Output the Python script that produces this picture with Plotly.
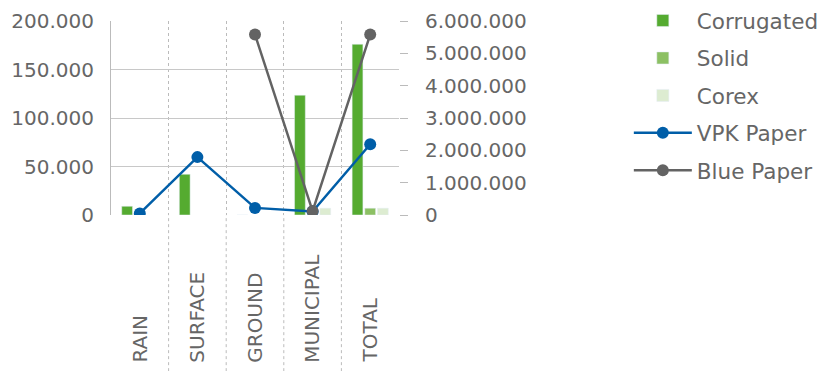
import plotly.graph_objects as go

categories = ["RAIN", "SURFACE", "GROUND", "MUNICIPAL", "TOTAL"]
corrugated = [9000, 42000, 0, 123500, 176000]
solid = [None, None, None, None, 7000]
corex = [None, None, None, 7000, 7000]
vpk_paper = [50000, 1790000, 220000, 110000, 2190000]
blue_paper = [None, None, 5580000, 120000, 5580000]

left_ticks = [0, 50000, 100000, 150000, 200000]
right_ticks = [0, 1000000, 2000000, 3000000, 4000000, 5000000, 6000000]

FONT = "DejaVu Sans"
TXT = "#666666"
GRID = "#c8c8c8"

fig = go.Figure()
fig.add_trace(go.Bar(name="Corrugated", x=categories, y=corrugated, marker_color="#55ab30", legendgroup="a"))
fig.add_trace(go.Bar(name="Solid", x=categories, y=solid, marker_color="#8cc063", legendgroup="b"))
fig.add_trace(go.Bar(name="Corex", x=categories, y=corex, marker_color="#ddecd1", legendgroup="c"))
fig.add_trace(go.Scatter(name="VPK Paper", x=categories, y=vpk_paper, yaxis="y2", mode="lines+markers",
                         line=dict(color="#005ea8", width=2.5), marker=dict(size=12, color="#005ea8"),
                         legendgroup="d"))
fig.add_trace(go.Scatter(name="Blue Paper", x=categories, y=blue_paper, yaxis="y2", mode="lines+markers",
                         line=dict(color="#636363", width=2.5), marker=dict(size=12, color="#636363"),
                         connectgaps=False, legendgroup="e"))

annotations = []
for c in categories:
    annotations.append(dict(x=c, xref="x", y=-0.772, yref="paper", text=c, showarrow=False,
                            textangle=-90, yanchor="bottom", xanchor="center", xshift=0,
                            font=dict(family=FONT, size=20, color=TXT)))

shapes = []
for i in range(len(categories) - 1):
    shapes.append(dict(type="line", xref="x", yref="paper", x0=i + 0.5, x1=i + 0.5, y0=-0.805, y1=0,
                       line=dict(color="#bbbbbb", width=1, dash="dot")))

fig.update_layout(
    width=822, height=371,
    margin=dict(l=111, r=423, t=21, b=156, autoexpand=False),
    paper_bgcolor="white", plot_bgcolor="white",
    separators=",.",
    barmode="group", bargap=0.34, bargroupgap=0.15,
    font=dict(family=FONT, size=20, color=TXT),
    xaxis=dict(showticklabels=False, showgrid=True, gridcolor="#bbbbbb", griddash="dot", gridwidth=1,
               tickson="boundaries", ticks="", showline=False, zeroline=False),
    yaxis=dict(range=[0, 200000], tickvals=left_ticks, tickformat=",d", showgrid=True, gridcolor=GRID,
               gridwidth=1, showline=True, linecolor="#bbbbbb", linewidth=1, zeroline=False, ticks="",
               ticklabelstandoff=12, tickfont=dict(family=FONT, size=20, color=TXT)),
    yaxis2=dict(range=[0, 6000000], tickvals=right_ticks, tickformat=",d", overlaying="y", side="right",
                showgrid=False, zeroline=False, showline=False, ticks="outside", ticklen=8,
                tickcolor="#bbbbbb", tickwidth=1, ticklabelstandoff=13,
                tickfont=dict(family=FONT, size=20, color=TXT)),
    legend=dict(xref="container", yref="container", x=0.765, y=1.003, xanchor="left", yanchor="top",
                font=dict(family=FONT, size=21.5, color=TXT), traceorder="grouped", tracegroupgap=6.5,
                itemwidth=58, maxheight=360, bgcolor="rgba(0,0,0,0)"),
    annotations=annotations,
    shapes=shapes,
)

fig.write_html("out.html")
